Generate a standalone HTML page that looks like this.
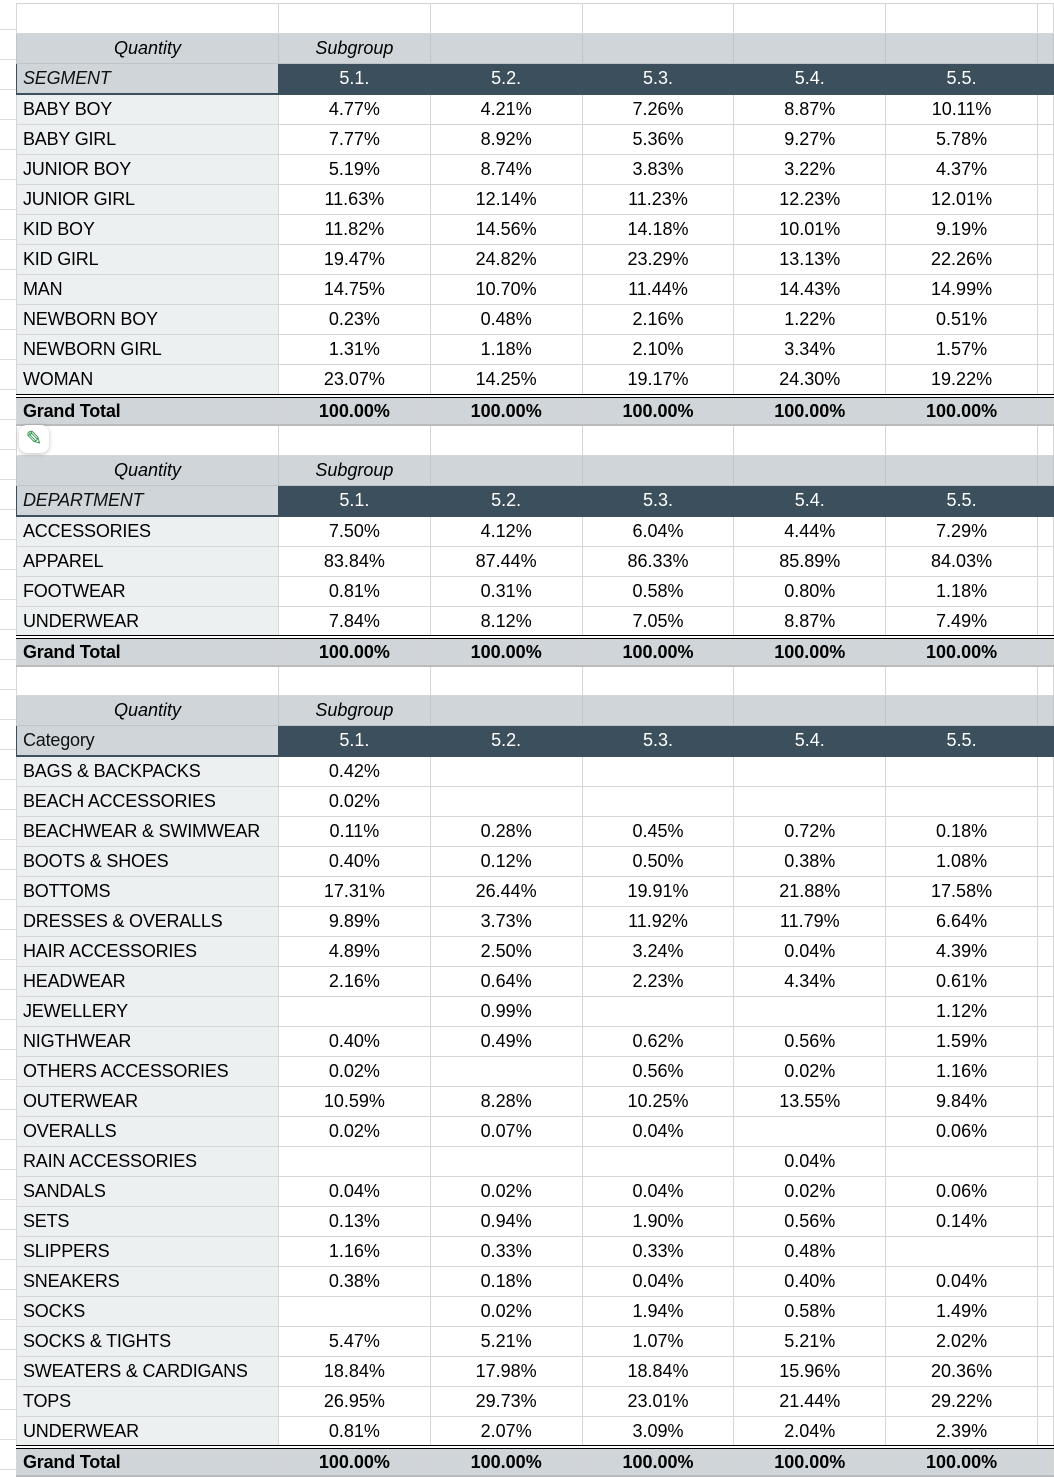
<!DOCTYPE html>
<html><head><meta charset="utf-8"><style>
body{margin:0;width:1054px;height:1472px;overflow:hidden;background:#fff;font-family:"Liberation Sans",sans-serif;font-size:18px;color:#000;position:relative}
.lm{position:absolute;left:0;top:0;width:16px;height:1472px;background:repeating-linear-gradient(#fff 0 29px,#ddd 29px 30px)}
table{position:absolute;left:16px;top:3px;border-collapse:collapse;table-layout:fixed}
td{height:29px;padding:0;border:1px solid #d6d6d6;text-align:center;white-space:nowrap;overflow:hidden}
td.f{text-align:left;padding-left:6px;background:#edf0f1;letter-spacing:-0.2px}
tr.q td{background:#cfd5d8;font-style:italic;border-color:#bfc5c8}
tr.h td{background:#3b4f5c;color:#fff;border-color:#3b4f5c}
tr.h td.f{background:#cfd5d8;color:#111;font-style:italic;border-bottom:2px solid #3b4f5c}
tr.g td{background:#cfd5d8;font-weight:bold;border-top:4px double #000;border-bottom:2px solid #bbb;height:26px}
tr.g td.f{background:#cfd5d8}
tr.e td{height:29px}
tr.s td{height:28px}
.pen{position:absolute;left:19px;top:425px;width:30px;height:28px;background:#fff;border-radius:8px;box-shadow:0 1px 4px rgba(0,0,0,.25);color:#1e8a3c;font-size:20px;line-height:28px;text-align:center}
</style></head><body>
<div class="lm"></div>
<table>
<colgroup><col style="width:262px"><col style="width:152px"><col style="width:152px"><col style="width:152px"><col style="width:152px"><col style="width:152px"><col style="width:16px"></colgroup>
<tr><td style="background:#fff"></td><td></td><td></td><td></td><td></td><td></td><td></td></tr>
<tr class="q"><td>Quantity</td><td>Subgroup</td><td></td><td></td><td></td><td></td><td></td></tr>
<tr class="h"><td class="f">SEGMENT</td><td>5.1.</td><td>5.2.</td><td>5.3.</td><td>5.4.</td><td>5.5.</td><td></td></tr>
<tr><td class="f">BABY BOY</td><td>4.77%</td><td>4.21%</td><td>7.26%</td><td>8.87%</td><td>10.11%</td><td></td></tr>
<tr><td class="f">BABY GIRL</td><td>7.77%</td><td>8.92%</td><td>5.36%</td><td>9.27%</td><td>5.78%</td><td></td></tr>
<tr><td class="f">JUNIOR BOY</td><td>5.19%</td><td>8.74%</td><td>3.83%</td><td>3.22%</td><td>4.37%</td><td></td></tr>
<tr><td class="f">JUNIOR GIRL</td><td>11.63%</td><td>12.14%</td><td>11.23%</td><td>12.23%</td><td>12.01%</td><td></td></tr>
<tr><td class="f">KID BOY</td><td>11.82%</td><td>14.56%</td><td>14.18%</td><td>10.01%</td><td>9.19%</td><td></td></tr>
<tr><td class="f">KID GIRL</td><td>19.47%</td><td>24.82%</td><td>23.29%</td><td>13.13%</td><td>22.26%</td><td></td></tr>
<tr><td class="f">MAN</td><td>14.75%</td><td>10.70%</td><td>11.44%</td><td>14.43%</td><td>14.99%</td><td></td></tr>
<tr><td class="f">NEWBORN BOY</td><td>0.23%</td><td>0.48%</td><td>2.16%</td><td>1.22%</td><td>0.51%</td><td></td></tr>
<tr><td class="f">NEWBORN GIRL</td><td>1.31%</td><td>1.18%</td><td>2.10%</td><td>3.34%</td><td>1.57%</td><td></td></tr>
<tr><td class="f">WOMAN</td><td>23.07%</td><td>14.25%</td><td>19.17%</td><td>24.30%</td><td>19.22%</td><td></td></tr>
<tr class="g"><td class="f">Grand Total</td><td>100.00%</td><td>100.00%</td><td>100.00%</td><td>100.00%</td><td>100.00%</td><td></td></tr>
<tr class="e"><td style="background:#fff"></td><td></td><td></td><td></td><td></td><td></td><td></td></tr>
<tr class="q"><td>Quantity</td><td>Subgroup</td><td></td><td></td><td></td><td></td><td></td></tr>
<tr class="h"><td class="f">DEPARTMENT</td><td>5.1.</td><td>5.2.</td><td>5.3.</td><td>5.4.</td><td>5.5.</td><td></td></tr>
<tr><td class="f">ACCESSORIES</td><td>7.50%</td><td>4.12%</td><td>6.04%</td><td>4.44%</td><td>7.29%</td><td></td></tr>
<tr><td class="f">APPAREL</td><td>83.84%</td><td>87.44%</td><td>86.33%</td><td>85.89%</td><td>84.03%</td><td></td></tr>
<tr><td class="f">FOOTWEAR</td><td>0.81%</td><td>0.31%</td><td>0.58%</td><td>0.80%</td><td>1.18%</td><td></td></tr>
<tr class="s"><td class="f">UNDERWEAR</td><td>7.84%</td><td>8.12%</td><td>7.05%</td><td>8.87%</td><td>7.49%</td><td></td></tr>
<tr class="g"><td class="f">Grand Total</td><td>100.00%</td><td>100.00%</td><td>100.00%</td><td>100.00%</td><td>100.00%</td><td></td></tr>
<tr class="s"><td style="background:#fff"></td><td></td><td></td><td></td><td></td><td></td><td></td></tr>
<tr class="q"><td>Quantity</td><td>Subgroup</td><td></td><td></td><td></td><td></td><td></td></tr>
<tr class="h"><td class="f" style="font-style:normal">Category</td><td>5.1.</td><td>5.2.</td><td>5.3.</td><td>5.4.</td><td>5.5.</td><td></td></tr>
<tr><td class="f">BAGS &amp; BACKPACKS</td><td>0.42%</td><td></td><td></td><td></td><td></td><td></td></tr>
<tr><td class="f">BEACH ACCESSORIES</td><td>0.02%</td><td></td><td></td><td></td><td></td><td></td></tr>
<tr><td class="f">BEACHWEAR &amp; SWIMWEAR</td><td>0.11%</td><td>0.28%</td><td>0.45%</td><td>0.72%</td><td>0.18%</td><td></td></tr>
<tr><td class="f">BOOTS &amp; SHOES</td><td>0.40%</td><td>0.12%</td><td>0.50%</td><td>0.38%</td><td>1.08%</td><td></td></tr>
<tr><td class="f">BOTTOMS</td><td>17.31%</td><td>26.44%</td><td>19.91%</td><td>21.88%</td><td>17.58%</td><td></td></tr>
<tr><td class="f">DRESSES &amp; OVERALLS</td><td>9.89%</td><td>3.73%</td><td>11.92%</td><td>11.79%</td><td>6.64%</td><td></td></tr>
<tr><td class="f">HAIR ACCESSORIES</td><td>4.89%</td><td>2.50%</td><td>3.24%</td><td>0.04%</td><td>4.39%</td><td></td></tr>
<tr><td class="f">HEADWEAR</td><td>2.16%</td><td>0.64%</td><td>2.23%</td><td>4.34%</td><td>0.61%</td><td></td></tr>
<tr><td class="f">JEWELLERY</td><td></td><td>0.99%</td><td></td><td></td><td>1.12%</td><td></td></tr>
<tr><td class="f">NIGTHWEAR</td><td>0.40%</td><td>0.49%</td><td>0.62%</td><td>0.56%</td><td>1.59%</td><td></td></tr>
<tr><td class="f">OTHERS ACCESSORIES</td><td>0.02%</td><td></td><td>0.56%</td><td>0.02%</td><td>1.16%</td><td></td></tr>
<tr><td class="f">OUTERWEAR</td><td>10.59%</td><td>8.28%</td><td>10.25%</td><td>13.55%</td><td>9.84%</td><td></td></tr>
<tr><td class="f">OVERALLS</td><td>0.02%</td><td>0.07%</td><td>0.04%</td><td></td><td>0.06%</td><td></td></tr>
<tr><td class="f">RAIN ACCESSORIES</td><td></td><td></td><td></td><td>0.04%</td><td></td><td></td></tr>
<tr><td class="f">SANDALS</td><td>0.04%</td><td>0.02%</td><td>0.04%</td><td>0.02%</td><td>0.06%</td><td></td></tr>
<tr><td class="f">SETS</td><td>0.13%</td><td>0.94%</td><td>1.90%</td><td>0.56%</td><td>0.14%</td><td></td></tr>
<tr><td class="f">SLIPPERS</td><td>1.16%</td><td>0.33%</td><td>0.33%</td><td>0.48%</td><td></td><td></td></tr>
<tr><td class="f">SNEAKERS</td><td>0.38%</td><td>0.18%</td><td>0.04%</td><td>0.40%</td><td>0.04%</td><td></td></tr>
<tr><td class="f">SOCKS</td><td></td><td>0.02%</td><td>1.94%</td><td>0.58%</td><td>1.49%</td><td></td></tr>
<tr><td class="f">SOCKS &amp; TIGHTS</td><td>5.47%</td><td>5.21%</td><td>1.07%</td><td>5.21%</td><td>2.02%</td><td></td></tr>
<tr><td class="f">SWEATERS &amp; CARDIGANS</td><td>18.84%</td><td>17.98%</td><td>18.84%</td><td>15.96%</td><td>20.36%</td><td></td></tr>
<tr><td class="f">TOPS</td><td>26.95%</td><td>29.73%</td><td>23.01%</td><td>21.44%</td><td>29.22%</td><td></td></tr>
<tr class="s"><td class="f">UNDERWEAR</td><td>0.81%</td><td>2.07%</td><td>3.09%</td><td>2.04%</td><td>2.39%</td><td></td></tr>
<tr class="g"><td class="f">Grand Total</td><td>100.00%</td><td>100.00%</td><td>100.00%</td><td>100.00%</td><td>100.00%</td><td></td></tr>
</table>
<div class="pen">✎</div>
</body></html>
